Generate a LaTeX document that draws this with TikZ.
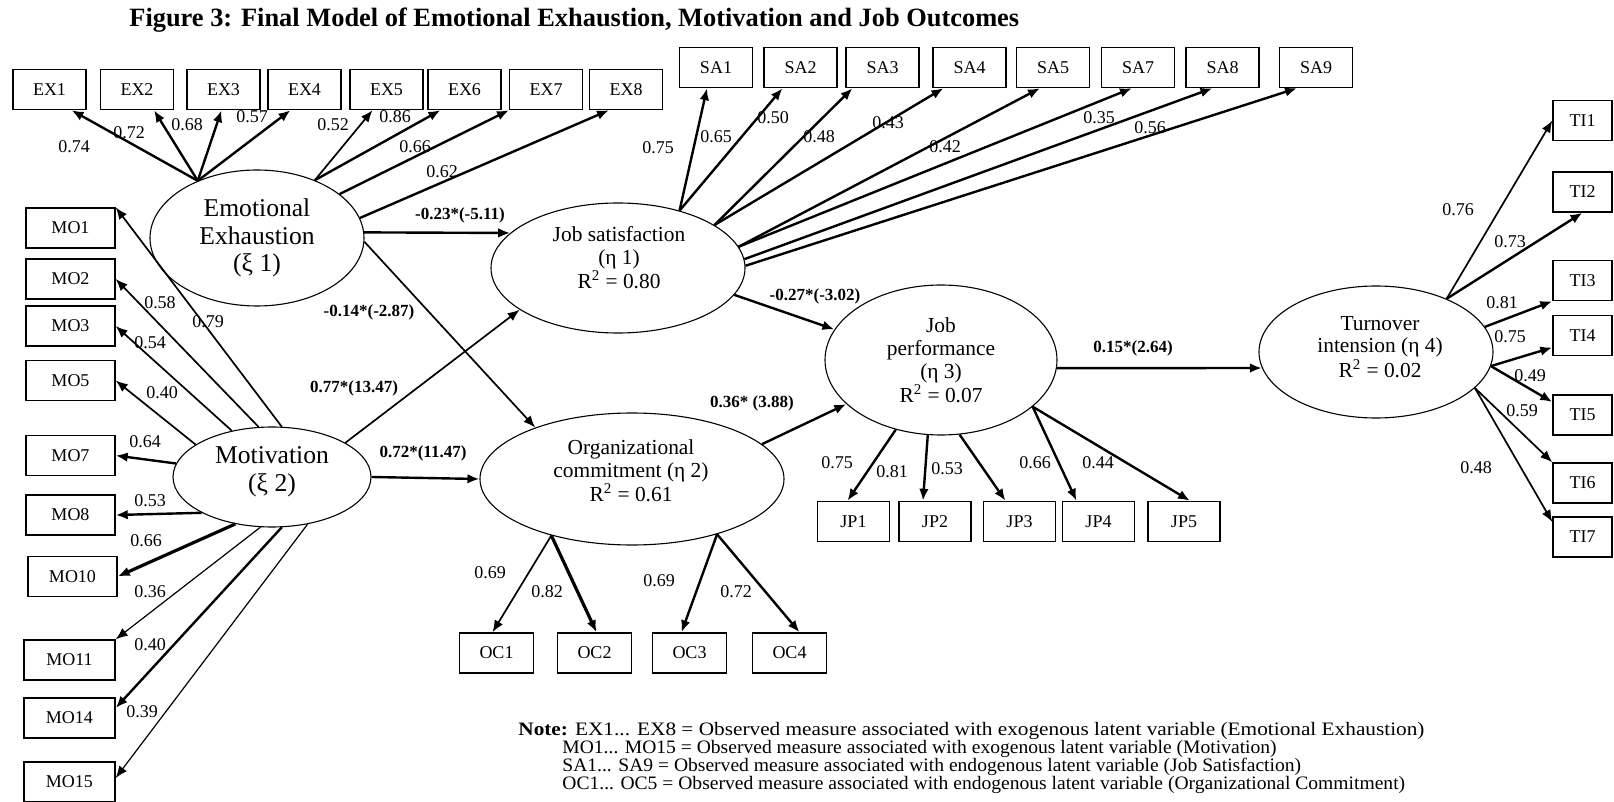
\documentclass[tikz,border=0pt]{standalone}
\usepackage{graphicx}
\usepackage{fontspec}
\setmainfont{Liberation Serif}
\usetikzlibrary{arrows.meta,shapes.geometric}
\begin{document}
\begin{tikzpicture}[x=0.5pt,y=-0.5pt,
  box/.style={draw, line width=0.7pt, minimum width=36.5pt, minimum height=20pt, inner sep=0pt, font=\fontsize{9}{10}\selectfont},
  lat/.style={draw, ellipse, line width=0.55pt, inner sep=0pt},
  bigtxt/.style={align=center, inner sep=0pt, font=\fontsize{12.8}{13.8}\selectfont},
  midtxt/.style={align=center, inner sep=0pt, font=\fontsize{10.7}{11.2}\selectfont},
  ld/.style={inner sep=0.5pt, font=\fontsize{9}{10}\selectfont},
  pl/.style={inner sep=0.5pt, font=\bfseries\fontsize{8.5}{10}\selectfont},
  notetxt/.style={anchor=base west, inner sep=0pt, font=\fontsize{9.5}{10}\selectfont},
  arr/.style={-{Latex[length=6pt,width=4.8pt]}},
  a1/.style={arr, line width=0.6pt},
  a2/.style={arr, line width=0.85pt},
  a3/.style={arr, line width=1.2pt},
  a4/.style={arr, line width=1.6pt}]
\path[fill=white, use as bounding box] (0,0) rectangle (1614,802);

% title
\node[anchor=base west, inner sep=0pt, font=\bfseries\fontsize{13.2}{15}\selectfont] (title) at (129,27)
  {Figure 3: Final Model of Emotional Exhaustion, Motivation and Job Outcomes};

% latent variables
\node[lat, minimum width=107pt, minimum height=68pt] (ee) at (257,238) {};
\node[lat, minimum width=99pt, minimum height=50pt] (mot) at (272,477) {};
\node[lat, minimum width=127pt, minimum height=65pt] (js) at (618,268) {};
\node[lat, minimum width=152pt, minimum height=66pt] (oc) at (632,479) {};
\node[lat, minimum width=116pt, minimum height=75pt] (jp) at (941,360) {};
\node[lat, minimum width=117pt, minimum height=66pt] (ti) at (1376,352) {};

\node[bigtxt] (eet) at (257,238) {Emotional\\Exhaustion\\(ξ 1)};
\node[bigtxt] (mott) at (272,472) {Motivation\\(ξ 2)};
\node[midtxt] (jst) at (619,258) {Job satisfaction\\(η 1)\\R\textsuperscript{2} = 0.80};
\node[midtxt] (oct) at (631,471) {Organizational\\commitment (η 2)\\R\textsuperscript{2} = 0.61};
\node[midtxt, font=\fontsize{10.7}{11.7}\selectfont] (jpt) at (941,360) {Job\\performance\\(η 3)\\R\textsuperscript{2} = 0.07};
\node[midtxt] (tit) at (1380,347) {Turnover\\intension (η 4)\\R\textsuperscript{2} = 0.02};

% EX boxes
\node[box] (ex1) at (49.5,89.5) {EX1};
\node[box] (ex2) at (137,89.5) {EX2};
\node[box] (ex3) at (223.5,89.5) {EX3};
\node[box] (ex4) at (304.5,89.5) {EX4};
\node[box] (ex5) at (386.5,89.5) {EX5};
\node[box] (ex6) at (464.5,89.5) {EX6};
\node[box] (ex7) at (546,89.5) {EX7};
\node[box] (ex8) at (626,89.5) {EX8};

% SA boxes
\node[box] (sa1) at (716,67.5) {SA1};
\node[box] (sa2) at (800.5,67.5) {SA2};
\node[box] (sa3) at (882.5,67.5) {SA3};
\node[box] (sa4) at (969.5,67.5) {SA4};
\node[box] (sa5) at (1053,67.5) {SA5};
\node[box] (sa7) at (1138,67.5) {SA7};
\node[box] (sa8) at (1222.5,67.5) {SA8};
\node[box] (sa9) at (1316,67.5) {SA9};

% MO boxes
\node[box, minimum width=44.5pt] (mo1) at (70.5,228) {MO1};
\node[box, minimum width=44.5pt] (mo2) at (70.5,279) {MO2};
\node[box, minimum width=44.5pt] (mo3) at (70.5,326) {MO3};
\node[box, minimum width=44.5pt] (mo5) at (70.5,380.5) {MO5};
\node[box, minimum width=44.5pt] (mo7) at (70.5,455.5) {MO7};
\node[box, minimum width=44.5pt] (mo8) at (70.5,515) {MO8};
\node[box, minimum width=44.5pt] (mo10) at (72.5,576.5) {MO10};
\node[box, minimum width=45.5pt] (mo11) at (69.5,660) {MO11};
\node[box, minimum width=45.5pt] (mo14) at (69.5,718) {MO14};
\node[box, minimum width=45.5pt] (mo15) at (69.5,782) {MO15};

% JP boxes
\node[box, minimum width=36pt] (jp1) at (853.5,521.5) {JP1};
\node[box, minimum width=36pt] (jp2) at (935,521.5) {JP2};
\node[box, minimum width=36pt] (jp3) at (1019.5,521.5) {JP3};
\node[box, minimum width=36pt] (jp4) at (1098.5,521.5) {JP4};
\node[box, minimum width=36pt] (jp5) at (1184,521.5) {JP5};

% OC boxes
\node[box, minimum width=37pt] (oc1) at (496.5,653) {OC1};
\node[box, minimum width=37pt] (oc2) at (594.5,653) {OC2};
\node[box, minimum width=37pt] (oc3) at (689.5,653) {OC3};
\node[box, minimum width=37pt] (oc4) at (789.5,653) {OC4};

% TI boxes
\node[box, minimum width=29.5pt] (ti1) at (1582.5,120.5) {TI1};
\node[box, minimum width=29.5pt] (ti2) at (1582.5,192) {TI2};
\node[box, minimum width=29.5pt] (ti3) at (1582.5,280.5) {TI3};
\node[box, minimum width=29.5pt] (ti4) at (1582.5,335.5) {TI4};
\node[box, minimum width=29.5pt] (ti5) at (1582.5,415) {TI5};
\node[box, minimum width=29.5pt] (ti6) at (1582.5,483) {TI6};
\node[box, minimum width=29.5pt] (ti7) at (1582.5,537) {TI7};

% EE -> EX
\draw[a3] (ee.136) -- ([xshift=11pt]ex1.south);
\draw[a3] (ee.136) -- ([xshift=8.5pt]ex2.south);
\draw[a3] (ee.136) -- ([xshift=-1pt]ex3.south);
\draw[a3] (ee.136) -- ([xshift=-7pt]ex4.south);
\draw[a2] (ee.45) -- ([xshift=-7pt]ex5.south);
\draw[a3] (ee.45) -- ([xshift=-12pt]ex6.south);
\draw[a3] (ee.28) -- ([xshift=-18.5pt]ex7.south);
\draw[a3] (ee.11) -- ([xshift=-8.5pt]ex8.south);

% MOT -> MO
\draw[a2] (mot.79) -- (mo1.north east);
\draw[a2] (mot.105) -- (mo2.east);
\draw[a2] (mot.131) -- (mo3.east);
\draw[a2] (mot.157) -- (mo5.east);
\draw[a3] (mot.172) -- (mo7.east);
\draw[a3] (mot.207) -- (mo8.east);
\draw[a4] (mot.232) -- (mo10.east);
\draw[a1] (mot.257) -- (mo11.north east);
\draw[a3] (mot.281) -- ([yshift=5pt]mo14.east);
\draw[a1] (mot.307) -- ([yshift=2pt]mo15.east);

% JS -> SA
\draw[a3] (js.43) -- ([xshift=-4.5pt]sa1.south);
\draw[a3] (js.43) -- ([xshift=-9pt]sa2.south);
\draw[a3] (js.24) -- ([xshift=-15pt]sa3.south);
\draw[a3] (js.24) -- ([xshift=-13pt]sa4.south);
\draw[a3] (js.10) -- ([xshift=-6.5pt]sa5.south);
\draw[a3] (js.10) -- ([xshift=-3pt]sa7.south);
\draw[a3] (js.4) -- ([xshift=-5pt]sa8.south);
\draw[a3] (js.1) -- ([xshift=-9.5pt]sa9.south);

% structural paths
\draw[a3] (ee.3) -- (js.162);
\draw[a2] (ee.-2) -- (oc.152);
\draw[a2] (mot.25) -- (js.203);
\draw[a3] (mot.0) -- (oc.180);
\draw[a3] (js.-13) -- (jp.164);
\draw[a3] (oc.15) -- (jp.205);
\draw[a3] (jp.-4) -- (ti.188);

% OC -> OC boxes
\draw[a2] (oc.215) -- ([xshift=-2pt]oc1.north);
\draw[a4] (oc.215) -- ([xshift=1pt]oc2.north);
\draw[a3] (oc.-33) -- ([xshift=-4pt]oc3.north);
\draw[a3] (oc.-33) -- ([xshift=5pt]oc4.north);

% JP -> JP boxes
\draw[a3] (jp.237) -- ([xshift=-3pt]jp1.north);
\draw[a3] (jp.260) -- ([xshift=-6pt]jp2.north);
\draw[a3] (jp.284) -- ([xshift=-7pt]jp3.north);
\draw[a3] (jp.-27) -- ([xshift=-11pt]jp4.north);
\draw[a3] (jp.-27) -- ([xshift=3pt]jp5.north);

% TI -> TI boxes
\draw[a2] (ti.37) -- (ti1.west);
\draw[a3] (ti.37) -- (ti2.south);
\draw[a3] (ti.13) -- (ti3.south west);
\draw[a3] (ti.-7) -- ([yshift=-6pt]ti4.west);
\draw[a3] (ti.-7) -- ([yshift=6.5pt]ti5.west);
\draw[a2] (ti.-20) -- (ti6.north west);
\draw[a2] (ti.-20) -- ([yshift=7.5pt]ti7.west);

% path coefficients
\node[pl] (p1) at (460,215) {-0.23*(-5.11)};
\node[pl] (p2) at (369,312) {-0.14*(-2.87)};
\node[pl] (p3) at (354,388) {0.77*(13.47)};
\node[pl] (p4) at (423,453) {0.72*(11.47)};
\node[pl] (p5) at (815,296) {-0.27*(-3.02)};
\node[pl] (p6) at (752,403) {0.36* (3.88)};
\node[pl] (p7) at (1133,348) {0.15*(2.64)};

% loadings EX
\node[ld] (lx1) at (74,147) {0.74};
\node[ld] (lx2) at (129,133) {0.72};
\node[ld] (lx3) at (187,125) {0.68};
\node[ld] (lx4) at (252,117) {0.57};
\node[ld] (lx5) at (333,125) {0.52};
\node[ld] (lx6) at (395,117) {0.86};
\node[ld] (lx7) at (415,147) {0.66};
\node[ld] (lx8) at (442,172) {0.62};
% loadings SA
\node[ld] (ls1) at (658,148) {0.75};
\node[ld] (ls2) at (716,137) {0.65};
\node[ld] (ls3) at (773,118) {0.50};
\node[ld] (ls4) at (819,137) {0.48};
\node[ld] (ls5) at (888,123) {0.43};
\node[ld] (ls6) at (945,147) {0.42};
\node[ld] (ls7) at (1099,118) {0.35};
\node[ld] (ls8) at (1150,128) {0.56};
% loadings MO
\node[ld] (lm1) at (208,322) {0.79};
\node[ld] (lm2) at (160,303) {0.58};
\node[ld] (lm3) at (150,343) {0.54};
\node[ld] (lm5) at (162,393) {0.40};
\node[ld] (lm7) at (145,442) {0.64};
\node[ld] (lm8) at (150,501) {0.53};
\node[ld] (lm10) at (146,541) {0.66};
\node[ld] (lm11) at (150,592) {0.36};
\node[ld] (lm14) at (150,645) {0.40};
\node[ld] (lm15) at (142,712) {0.39};
% loadings JP
\node[ld] (lj1) at (837,463) {0.75};
\node[ld] (lj2) at (892,472) {0.81};
\node[ld] (lj3) at (947,469) {0.53};
\node[ld] (lj4) at (1035,463) {0.66};
\node[ld] (lj5) at (1098,463) {0.44};
% loadings OC
\node[ld] (lo1) at (490,573) {0.69};
\node[ld] (lo2) at (547,592) {0.82};
\node[ld] (lo3) at (659,581) {0.69};
\node[ld] (lo4) at (736,592) {0.72};
% loadings TI
\node[ld] (lt1) at (1458,210) {0.76};
\node[ld] (lt2) at (1510,242) {0.73};
\node[ld] (lt3) at (1502,303) {0.81};
\node[ld] (lt4) at (1510,337) {0.75};
\node[ld] (lt5) at (1530,376) {0.49};
\node[ld] (lt6) at (1522,411) {0.59};
\node[ld] (lt7) at (1476,468) {0.48};

% note
\node[notetxt] (n1) at (518,735) {\scalebox{1.12}[1]{\textbf{Note:} EX1... EX8 = Observed measure associated with exogenous latent variable (Emotional Exhaustion)}};
\node[notetxt] (n2) at (562,753) {\scalebox{1.03}[1]{MO1... MO15 = Observed measure associated with exogenous latent variable (Motivation)}};
\node[notetxt] (n3) at (562,771) {\scalebox{1.03}[1]{SA1... SA9 = Observed measure associated with endogenous latent variable (Job Satisfaction)}};
\node[notetxt] (n4) at (562,789) {\scalebox{1.03}[1]{OC1... OC5 = Observed measure associated with endogenous latent variable (Organizational Commitment)}};
\end{tikzpicture}
\end{document}
